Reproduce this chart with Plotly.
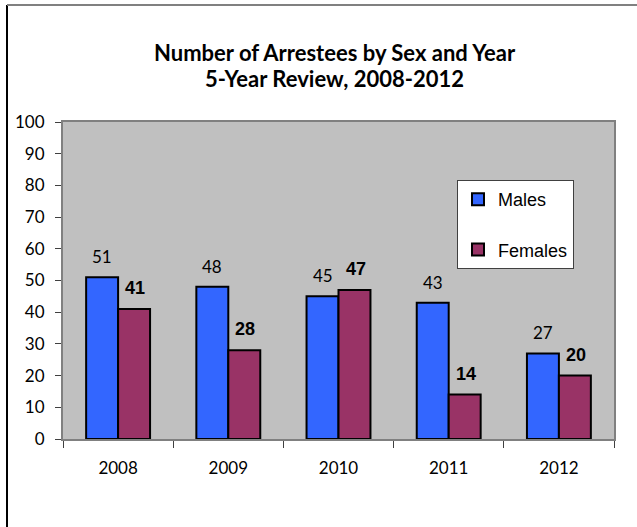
import plotly.graph_objects as go

years = ["2008", "2009", "2010", "2011", "2012"]
males = [51, 48, 45, 43, 27]
females = [41, 28, 47, 14, 20]
y_ticks = [0, 10, 20, 30, 40, 50, 60, 70, 80, 90, 100]

W, H = 637, 527
ML, MR, MT, MB = 63, 23, 122, 88
pw, ph = W - ML - MR, H - MT - MB

BLUE = "#3366FF"
MAROON = "#993366"
NUM_FONT = "Lato"

fig = go.Figure()
fig.add_trace(go.Bar(
    x=years, y=males, name="Males", legendgroup="m",
    marker=dict(color=BLUE, line=dict(color="black", width=2)),
))
fig.add_trace(go.Bar(
    x=years, y=females, name="Females", legendgroup="f",
    marker=dict(color=MAROON, line=dict(color="black", width=2)),
))

# value labels above each bar (category index positions)
annotations = []
for i, (m, f) in enumerate(zip(males, females)):
    annotations.append(dict(
        x=i, y=m, xref="x", yref="y", text=str(m), showarrow=False,
        xshift=-16, yshift=8, yanchor="bottom",
        font=dict(family=NUM_FONT, size=17, color="black"),
    ))
    annotations.append(dict(
        x=i, y=f, xref="x", yref="y", text=f"<b>{f}</b>", showarrow=False,
        xshift=17, yshift=9, yanchor="bottom",
        font=dict(family="Arial", size=18, color="black"),
    ))

# two-line title
annotations.append(dict(
    x=0.5, y=(H - MB - 52) / ph, xref="paper", yref="paper",
    text="<b>Number of Arrestees by Sex and Year</b>", showarrow=False,
    xanchor="center", yanchor="middle", xshift=-4,
    font=dict(family="Lato", size=22, color="black"),
))
annotations.append(dict(
    x=0.5, y=(H - MB - 78) / ph, xref="paper", yref="paper",
    text="<b>5-Year Review, 2008-2012</b>", showarrow=False,
    xanchor="center", yanchor="middle", xshift=-4,
    font=dict(family="Lato", size=22, color="black"),
))

def px_x(p):
    return (p - ML) / pw

def px_y(p):
    return (H - MB - p) / ph

shapes = [
    # outer chart frame (left and top edges)
    dict(type="line", xref="paper", yref="paper",
         x0=px_x(7), x1=px_x(7), y0=px_y(5), y1=px_y(H + 5),
         line=dict(color="black", width=2)),
    dict(type="line", xref="paper", yref="paper",
         x0=px_x(7), x1=px_x(W + 5), y0=px_y(5), y1=px_y(5),
         line=dict(color="#808080", width=2)),
]

fig.update_layout(
    width=W, height=H,
    margin=dict(l=ML, r=MR, t=MT, b=MB, pad=0),
    paper_bgcolor="white",
    plot_bgcolor="#C0C0C0",
    barmode="group",
    bargap=0.42,
    bargroupgap=0,
    showlegend=True,
    legend=dict(
        x=px_x(457), y=px_y(180), xanchor="left", yanchor="top",
        bgcolor="white", bordercolor="#404040", borderwidth=1,
        font=dict(family="Arial", size=18, color="black"),
        tracegroupgap=24, entrywidth=124,
        traceorder="grouped",
    ),
    annotations=annotations,
    shapes=shapes,
    xaxis=dict(
        type="category",
        range=[-0.5, len(years) - 0.5],
        showline=True, linecolor="#808080", linewidth=2, mirror=True,
        ticks="outside", ticklen=7, tickcolor="#404040", tickwidth=1,
        tickson="boundaries",
        tickfont=dict(family=NUM_FONT, size=17, color="black"),
        ticklabelstandoff=13,
        showgrid=False, zeroline=False, fixedrange=True,
    ),
    yaxis=dict(
        range=[0, 100],
        tickvals=y_ticks,
        showline=True, linecolor="#808080", linewidth=2, mirror=True,
        ticks="outside", ticklen=6, tickcolor="#404040", tickwidth=1,
        tickfont=dict(family=NUM_FONT, size=17, color="black"),
        ticklabelstandoff=7,
        showgrid=False, zeroline=False, fixedrange=True,
    ),
)

fig.write_html("out.html")
